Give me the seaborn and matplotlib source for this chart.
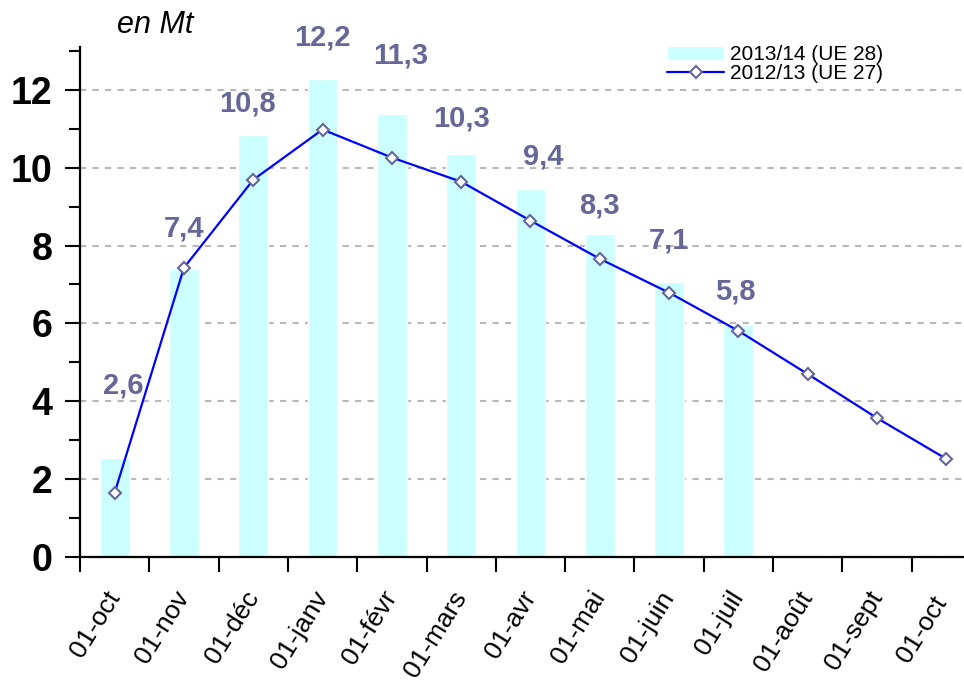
import numpy as np
import pandas as pd
import matplotlib
matplotlib.use("Agg")
import matplotlib.pyplot as plt
import seaborn as sns
from matplotlib.ticker import MultipleLocator, FixedLocator

# months on the x axis (marketing year, oct -> oct)
months = ['01-oct', '01-nov', '01-déc', '01-janv', '01-févr', '01-mars', '01-avr',
          '01-mai', '01-juin', '01-juil', '01-août', '01-sept', '01-oct ']

# 2013/14 (UE 28) bars, only the first 10 months known
bars_1314 = [2.55, 7.4, 10.85, 12.27, 11.37, 10.35, 9.46, 8.3, 7.07, 5.97]
bar_labels = ['2,6', '7,4', '10,8', '12,2', '11,3', '10,3', '9,4', '8,3', '7,1', '5,8']

# 2012/13 (UE 27) line
line_1213 = [1.65, 7.43, 9.69, 10.98, 10.26, 9.64, 8.64, 7.66, 6.79, 5.81, 4.7, 3.57, 2.52]

bar_df = pd.DataFrame({'mois': months[:len(bars_1314)], 'val': bars_1314})

sns.set_style("white")
plt.rcParams['font.family'] = ['Liberation Sans', 'DejaVu Sans']
plt.rcParams['text.color'] = 'black'
plt.rcParams['xtick.color'] = 'black'
plt.rcParams['ytick.color'] = 'black'

fig = plt.figure(figsize=(9.64, 6.81), dpi=100)
ax = fig.add_axes([80 / 964, 1 - 557 / 681, 1 - 80 / 964, (557 - 47) / 681])

sns.barplot(data=bar_df, x='mois', y='val', order=months, color='#CCFFFF',
            saturation=1, width=0.43, ax=ax, label='2013/14 (UE 28)', zorder=2)
sns.lineplot(x=np.arange(len(line_1213)), y=line_1213, ax=ax, color='#0000FF',
             linewidth=1.6, marker='D', markersize=6.5, markerfacecolor='white',
             markeredgecolor='#666699', markeredgewidth=1.5,
             label='2012/13 (UE 27)', zorder=3)

# value labels above the bars (nudges in points, as placed in the original)
nudge_x = [6, 0, -4, 0, 6, 0, 9, 0, 0, -2]
lift = [1.85, 1.03, 0.8, 1.08, 1.5, 0.92, 0.82, 0.74, 1.07, 0.85]
for i, (h, txt) in enumerate(zip(bars_1314, bar_labels)):
    ax.annotate(txt, (i, h + lift[i]), xytext=(nudge_x[i], 0), textcoords='offset points',
                ha='center', va='center', fontsize=21, fontweight='bold', color='#666699',
                annotation_clip=False)

ax.set_xlim(-0.5, (964 - 80) / 69.3 - 0.5)
ax.set_ylim(0, 13.1)
ax.set_xlabel('')
ax.set_ylabel('')

# y axis: bold majors, odd minors
ax.yaxis.set_major_locator(MultipleLocator(2))
ax.yaxis.set_minor_locator(MultipleLocator(1))
ax.tick_params(axis='y', which='major', direction='out', length=11, width=1.5,
               labelsize=27, pad=9, left=True)
ax.tick_params(axis='y', which='minor', direction='out', length=8, width=1.5, left=True)
for lab in ax.get_yticklabels():
    lab.set_fontweight('bold')

# x axis: labels at category centres, tick marks between categories
ax.set_xticks(range(len(months)))
ax.set_xticklabels(months, rotation=58, ha='right', va='center', rotation_mode='anchor')
ax.xaxis.set_minor_locator(FixedLocator(np.arange(-0.5, 12.5, 1)))
ax.tick_params(axis='x', which='major', length=0, labelsize=19, pad=26)
ax.tick_params(axis='x', which='minor', direction='out', length=11, width=1.5, bottom=True)

ax.yaxis.grid(True, color='#b8b8b8', linestyle=(0, (3, 3)), linewidth=1.5)
ax.xaxis.grid(False)
ax.set_axisbelow(True)

sns.despine(ax=ax)
for side in ['left', 'bottom']:
    ax.spines[side].set_linewidth(1.6)
    ax.spines[side].set_color('black')

# legend: bars first, then the line
handles, labels = ax.get_legend_handles_labels()
order = [labels.index('2013/14 (UE 28)'), labels.index('2012/13 (UE 27)')]
leg = ax.legend([handles[k] for k in order], [labels[k] for k in order],
                loc='upper left', bbox_to_anchor=(657 / 964, 1 - 35 / 681),
                bbox_transform=fig.transFigure, frameon=False, fontsize=15,
                handlelength=2.7, handletextpad=0.3, labelspacing=0.0, borderpad=0)

fig.text(155 / 964, 1 - 25 / 681, 'en Mt', fontsize=22, style='italic',
         ha='center', va='center')

fig.savefig('out.png', dpi=100)
